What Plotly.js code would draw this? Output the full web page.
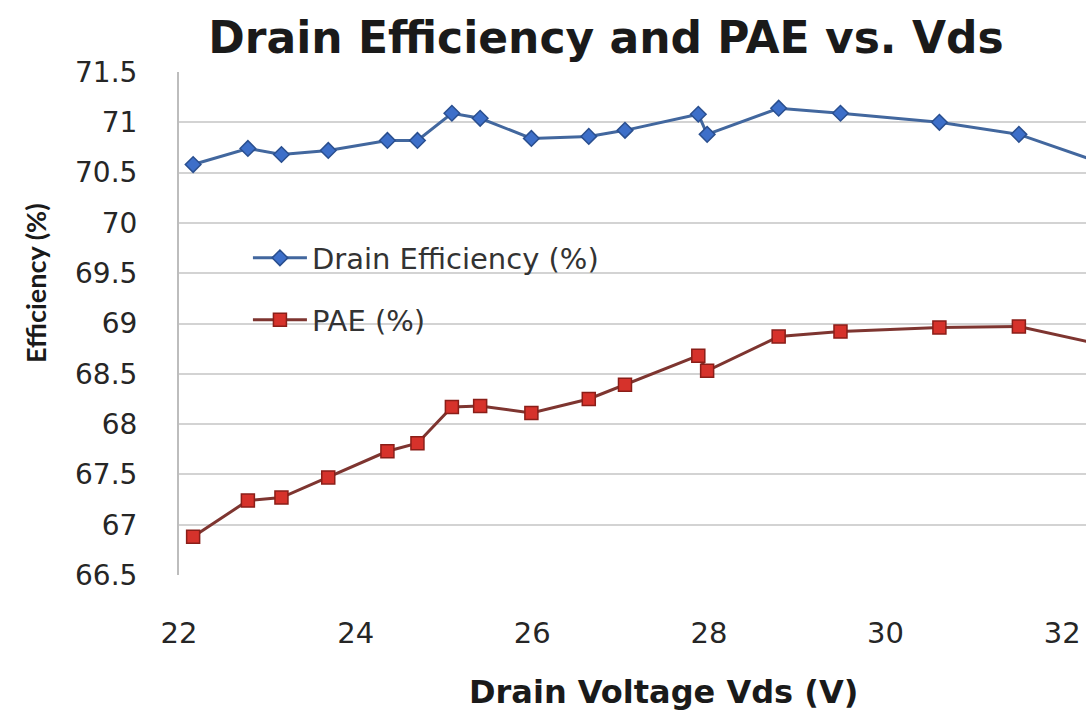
<!DOCTYPE html>
<html>
<head>
<meta charset="utf-8">
<script src="https://cdn.plot.ly/plotly-3.0.1.min.js"></script>
<style>
  html, body { margin: 0; padding: 0; background: #ffffff; }
  #chart { width: 1086px; height: 711px; }
</style>
</head>
<body>
<div id="chart"></div>
<script>
// Drain voltage (V)
const vds = [22.16, 22.78, 23.16, 23.69, 24.36, 24.70, 25.09, 25.41, 25.99, 26.64, 27.05, 27.88, 27.98, 28.79, 29.49, 30.61, 31.51, 32.5];
// Drain efficiency (%)
const drainEff = [70.58, 70.74, 70.68, 70.72, 70.82, 70.82, 71.09, 71.04, 70.84, 70.86, 70.92, 71.08, 70.88, 71.14, 71.09, 71.00, 70.88, 70.58];
// Power-added efficiency (%)
const pae = [66.88, 67.24, 67.27, 67.47, 67.73, 67.81, 68.17, 68.18, 68.11, 68.25, 68.39, 68.68, 68.53, 68.87, 68.92, 68.96, 68.97, 68.78];
// Axis ticks
const yTicks = [66.5, 67, 67.5, 68, 68.5, 69, 69.5, 70, 70.5, 71, 71.5];
const xTicks = [22, 24, 26, 28, 30, 32];

const WIDE = '"DejaVu Sans", sans-serif';
const NARROW = 'Lato, "Open Sans", sans-serif';

const traces = [
  {
    x: vds, y: drainEff, name: 'Drain Efficiency (%)', type: 'scatter', mode: 'lines+markers',
    line: { color: '#42679e', width: 3 },
    marker: { symbol: 'diamond', size: 12, color: '#3d6fc9', line: { color: '#2a4f8f', width: 1.5 } },
    legend: 'legend'
  },
  {
    x: vds, y: pae, name: 'PAE (%)', type: 'scatter', mode: 'lines+markers',
    line: { color: '#7e3530', width: 3 },
    marker: { symbol: 'square', size: 13, color: '#d6322b', line: { color: '#8a1e18', width: 1.5 } },
    legend: 'legend2'
  }
];

const layout = {
  width: 1086, height: 711,
  paper_bgcolor: '#ffffff', plot_bgcolor: '#ffffff',
  margin: { l: 179, r: 0, t: 72, b: 136, pad: 0 },
  title: {
    text: '<b>Drain Efficiency and PAE vs. Vds</b>',
    font: { family: WIDE, size: 44, color: '#1a1a1a' },
    xref: 'container', yref: 'container',
    x: 0.558, xanchor: 'center', y: 0.947, yanchor: 'middle'
  },
  xaxis: {
    range: [22, 32.27], tickvals: xTicks, ticktext: xTicks.map(String),
    showgrid: false, zeroline: false,
    showline: false, ticks: '', ticklabelstandoff: 38,
    tickfont: { family: WIDE, size: 29, color: '#262626' }
  },
  yaxis: {
    range: [66.5, 71.5], tickvals: yTicks, ticktext: yTicks.map(String),
    showgrid: true, gridcolor: '#d3d3d3', gridwidth: 2, zeroline: false,
    showline: true, linecolor: '#bdbdbd', linewidth: 2, ticks: '', ticklabelstandoff: 34,
    tickfont: { family: WIDE, size: 28, color: '#262626' }
  },
  annotations: [
    {
      text: '<b>Drain Voltage Vds (V)</b>', xref: 'paper', yref: 'paper',
      x: (663 - 179) / 907, xanchor: 'center', y: -(692 - 575) / 503, yanchor: 'middle',
      showarrow: false, font: { family: WIDE, size: 32, color: '#1a1a1a' }
    },
    {
      text: '<b>Efficiency (%)</b>', xref: 'paper', yref: 'paper', textangle: -90,
      x: -(179 - 35) / 907, xanchor: 'center', y: (575 - 283) / 503, yanchor: 'middle',
      showarrow: false, font: { family: NARROW, size: 27, color: '#1a1a1a' }
    }
  ],
  legend: {
    x: 0.076, xanchor: 'left', y: (575 - 258) / 503, yanchor: 'middle',
    bgcolor: 'rgba(0,0,0,0)', borderwidth: 0,
    font: { family: WIDE, size: 29, color: '#333333' },
    itemwidth: 54
  },
  legend2: {
    x: 0.076, xanchor: 'left', y: (575 - 320) / 503, yanchor: 'middle',
    bgcolor: 'rgba(0,0,0,0)', borderwidth: 0,
    font: { family: WIDE, size: 29, color: '#333333' },
    itemwidth: 54
  },
  showlegend: true
};

Plotly.newPlot('chart', traces, layout, { displayModeBar: false, staticPlot: true });
</script>
</body>
</html>
